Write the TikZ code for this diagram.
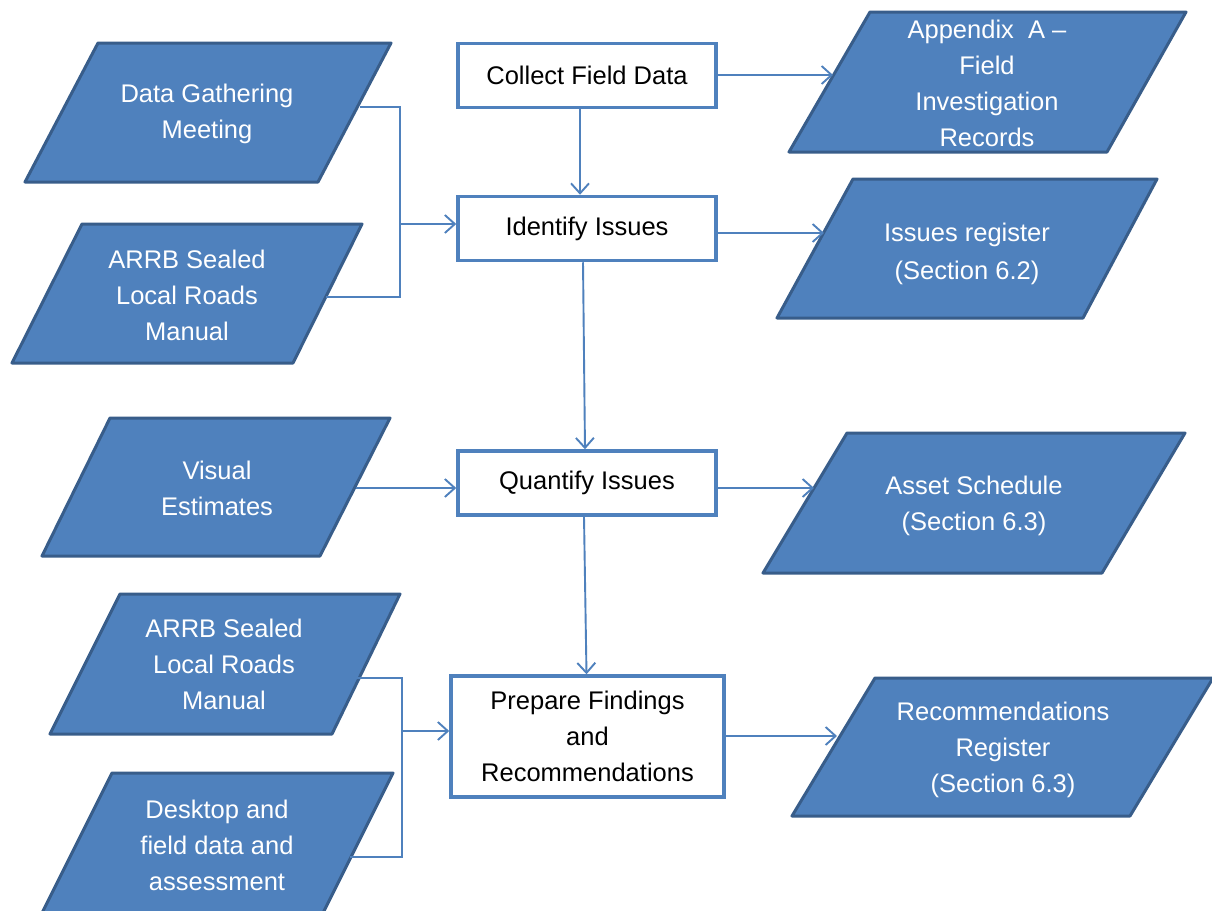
\documentclass[tikz,border=0pt]{standalone}
\usepackage{fontspec}
\setmainfont{Liberation Sans}
\usetikzlibrary{arrows.meta,calc}
\definecolor{blu}{HTML}{4F81BD}
\definecolor{dblu}{HTML}{385D8A}
\tikzset{
  para/.style={fill=blu, draw=dblu, line width=3pt, line join=round},
  ptext/.style={text=white, align=center, inner sep=0pt, font=\fontsize{25.5}{36}\selectfont},
  stepbox/.style={draw=blu, line width=3.5pt, fill=white, align=center, inner sep=0pt,
    text=black, font=\fontsize{25.5}{36}\selectfont, minimum width=258pt, minimum height=64pt},
  conn/.style={draw=blu, line width=1.9pt},
  arr/.style={conn, -{Straight Barb[length=10pt,width=18pt,line width=1.9pt]}}
}
\begin{document}
\begin{tikzpicture}[x=1pt,y=-1pt]
\clip (0,0) rectangle (1212,910);
\fill[white] (0,0) rectangle (1212,910);

% left input parallelograms
\draw[para] (98,43) -- (391,43) -- (318,182) -- (25,182) -- cycle;
\node[ptext] (dgm) at (207,114) {Data Gathering\\Meeting};
\draw[para] (82,224) -- (362,224) -- (293,363) -- (12,363) -- cycle;
\node[ptext] (arrb1) at (187,295) {ARRB Sealed\\Local Roads\\Manual};
\draw[para] (110,418) -- (390,418) -- (320,556) -- (42,556) -- cycle;
\node[ptext] (ve) at (217,488) {Visual\\Estimates};
\draw[para] (120,594) -- (400,594) -- (332,734) -- (50,734) -- cycle;
\node[ptext] (arrb2) at (224,664) {ARRB Sealed\\Local Roads\\Manual};
\draw[para] (112,773) -- (393,773) -- (323,913) -- (42,913) -- cycle;
\node[ptext] (desk) at (217,845) {Desktop and\\field data and\\assessment};

% right output parallelograms
\draw[para] (870,12) -- (1186,12) -- (1107,152) -- (789,152) -- cycle;
\node[ptext] (appa) at (987,83) {Appendix~~A --\\Field\\Investigation\\Records};
\draw[para] (853,179) -- (1157,179) -- (1083,318) -- (777,318) -- cycle;
\node[ptext, font=\fontsize{25.5}{38}\selectfont] (ireg) at (967,254) {Issues register\\(Section 6.2)};
\draw[para] (847,433) -- (1185,433) -- (1102,573) -- (763,573) -- cycle;
\node[ptext] (asch) at (974,506) {Asset Schedule\\(Section 6.3)};
\draw[para] (875,678) -- (1213,678) -- (1130,816) -- (792,816) -- cycle;
\node[ptext] (rreg) at (1003,750) {Recommendations\\Register\\(Section 6.3)};

% process boxes
\node[stepbox] (cf) at (587,75.5) {Collect Field Data};
\node[stepbox] (ii) at (587,228.5) {\raisebox{-2pt}{Identify Issues}};
\node[stepbox] (qi) at (587,483) {\raisebox{-2pt}{Quantify Issues}};
\node[stepbox, minimum width=273pt, minimum height=121pt] (pf) at (587.5,736.5) {Prepare Findings\\and\\Recommendations};

% connector end points on the parallelogram edges
\coordinate (dgm-out) at (360,107);
\coordinate (arrb1-out) at (326,297);
\coordinate (j1) at (400,224);
\coordinate (ve-out) at (356,488);
\coordinate (arrb2-out) at (357,678);
\coordinate (desk-out) at (350,857);
\coordinate (j2) at (402,731);
\coordinate (appa-in) at (833,75);
\coordinate (ireg-in) at (824,233);
\coordinate (asch-in) at (814,488);
\coordinate (rreg-in) at (837,736);

% left connectors
\draw[conn] (dgm-out) -- (dgm-out -| j1) -- (arrb1-out -| j1) -- (arrb1-out);
\draw[arr] (j1) -- (ii.west |- j1);
\draw[arr] (ve-out) -- (qi.west |- ve-out);
\draw[conn] (arrb2-out) -- (arrb2-out -| j2) -- (desk-out -| j2) -- (desk-out);
\draw[arr] (j2) -- (pf.west |- j2);

% main flow
\draw[arr] ([xshift=-7pt]cf.south) -- ([xshift=-7pt]ii.north);
\draw[arr] ([xshift=-4pt]ii.south) -- ([xshift=-2pt]qi.north);
\draw[arr] ([xshift=-3pt]qi.south) -- ([xshift=-1pt]pf.north);

% outputs
\draw[arr] (cf.east |- appa-in) -- (appa-in);
\draw[arr] (ii.east |- ireg-in) -- (ireg-in);
\draw[arr] (qi.east |- asch-in) -- (asch-in);
\draw[arr] (pf.east |- rreg-in) -- (rreg-in);
\end{tikzpicture}
\end{document}
